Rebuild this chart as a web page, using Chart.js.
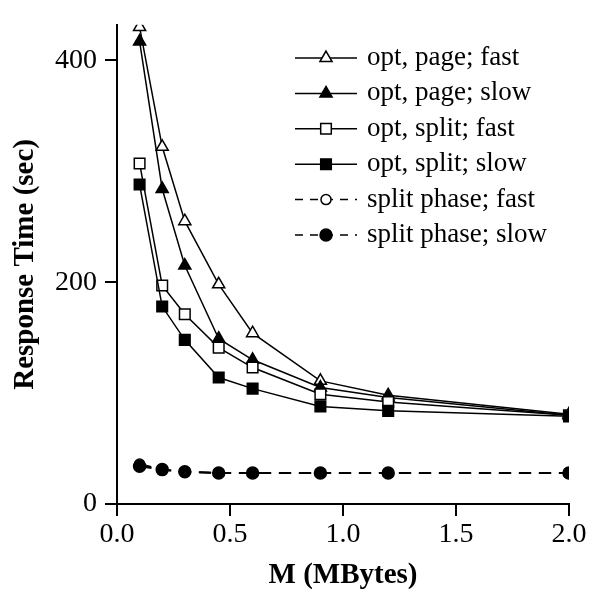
<!DOCTYPE html>
<html>
<head>
<meta charset="utf-8">
<script src="https://cdn.jsdelivr.net/npm/chart.js@4.4.1/dist/chart.umd.min.js"></script>
<style>
  html, body { margin: 0; padding: 0; background: #fff; }
  #wrap { width: 591px; height: 593px; }
</style>
</head>
<body>
<div id="wrap"><canvas id="respChart" width="591" height="593"></canvas></div>
<script>
// data
const mbytes = [0.1, 0.2, 0.3, 0.45, 0.6, 0.9, 1.2, 2.0];
const optPageFast = [430, 322, 255, 198, 154, 111, 98, 81];
const optPageSlow = [417, 284, 215, 149, 130, 105, 96, 80];
const optSplitFast = [307, 197, 171, 141, 123, 99, 92, 80];
const optSplitSlow = [288, 178, 148, 114, 104, 88, 84, 79];
const splitPhaseFast = [36, 31, 29, 28, 28, 28, 28, 28];
const splitPhaseSlow = [34, 31, 29, 28, 28, 28, 28, 28];
const yTicks = [0, 200, 400];
const xTicks = [0, 0.5, 1.0, 1.5, 2.0];

const serif = '"Liberation Serif", "DejaVu Serif", serif';

function pts(values) {
  return mbytes.map((m, i) => ({ x: m, y: values[i] }));
}

function series(label, values, style, filled, dashed, radius, order) {
  return {
    label: label,
    data: pts(values),
    borderColor: '#000',
    borderWidth: dashed ? 2 : 1.5,
    borderDash: dashed ? [12, 8] : [],
    pointStyle: style,
    pointRadius: radius,
    pointBorderWidth: 1.5,
    pointBorderColor: '#000',
    pointBackgroundColor: filled ? '#000' : '#fff',
    tension: 0,
    fill: false,
    order: order
  };
}

const datasets = [
  series('opt, page; fast', optPageFast, 'triangle', false, false, 7, 5),
  series('opt, page; slow', optPageSlow, 'triangle', true, false, 7, 4),
  series('opt, split; fast', optSplitFast, 'rect', false, false, 7.5, 3),
  series('opt, split; slow', optSplitSlow, 'rect', true, false, 7.5, 2),
  series('split phase; fast', splitPhaseFast, 'circle', false, true, 5, 1),
  series('split phase; slow', splitPhaseSlow, 'circle', true, true, 6, 0)
];

// legend drawn inside the plot, line + marker + text
const insideLegend = {
  id: 'insideLegend',
  afterDraw(chart) {
    const c = chart.ctx;
    const x0 = 295, x1 = 357, top = 58, gap = 35.4;
    chart.data.datasets.forEach((ds, i) => {
      const y = top + i * gap;
      c.save();
      c.strokeStyle = '#000';
      c.lineWidth = 1.5;
      c.setLineDash(ds.borderDash.length ? [8, 7] : []);
      c.beginPath();
      c.moveTo(x0, y);
      c.lineTo(x1, y);
      c.stroke();
      c.setLineDash([]);
      c.fillStyle = ds.pointBackgroundColor;
      c.lineWidth = ds.pointBorderWidth;
      Chart.helpers.drawPoint(c, {
        pointStyle: ds.pointStyle,
        radius: ds.pointRadius,
        rotation: 0,
        borderWidth: ds.pointBorderWidth
      }, (x0 + x1) / 2, y);
      c.fillStyle = '#000';
      c.font = '27px ' + serif;
      c.textAlign = 'left';
      c.textBaseline = 'middle';
      c.fillText(ds.label, 367, y);
      c.restore();
    });
  }
};

const ctx = document.getElementById('respChart').getContext('2d');
const respChart = new Chart(ctx, {
  type: 'line',
  data: { datasets: datasets },
  options: {
    responsive: false,
    animation: false,
    layout: { padding: { top: 15, right: 22, left: 0, bottom: 0 } },
    plugins: {
      legend: { display: false },
      tooltip: { enabled: false }
    },
    scales: {
      x: {
        type: 'linear',
        min: 0,
        max: 2.0,
        afterBuildTicks: (axis) => { axis.ticks = xTicks.map(v => ({ value: v })); },
        afterFit: (axis) => { axis.height = 89; },
        grid: {
          drawOnChartArea: false,
          drawTicks: true,
          tickLength: 12,
          color: '#000',
          lineWidth: 2
        },
        border: { display: true, color: '#000', width: 2 },
        ticks: {
          color: '#000',
          font: { family: serif, size: 28 },
          padding: 2,
          maxRotation: 0,
          callback: (v) => Number(v).toFixed(1)
        },
        title: {
          display: true,
          text: 'M (MBytes)',
          color: '#000',
          font: { family: serif, size: 29, weight: 'bold' },
          padding: { top: 0, bottom: 0 }
        }
      },
      y: {
        type: 'linear',
        min: 0,
        max: 432,
        afterBuildTicks: (axis) => { axis.ticks = yTicks.map(v => ({ value: v })); },
        afterFit: (axis) => { axis.width = 117; },
        grid: {
          drawOnChartArea: false,
          drawTicks: true,
          tickLength: 12,
          color: '#000',
          lineWidth: 2
        },
        border: { display: true, color: '#000', width: 2 },
        ticks: {
          color: '#000',
          font: { family: serif, size: 28 },
          padding: 8
        },
        title: {
          display: true,
          text: 'Response Time (sec)',
          color: '#000',
          font: { family: serif, size: 29, weight: 'bold' },
          padding: { top: 8, bottom: 0 }
        }
      }
    }
  },
  plugins: [insideLegend]
});
</script>
</body>
</html>
